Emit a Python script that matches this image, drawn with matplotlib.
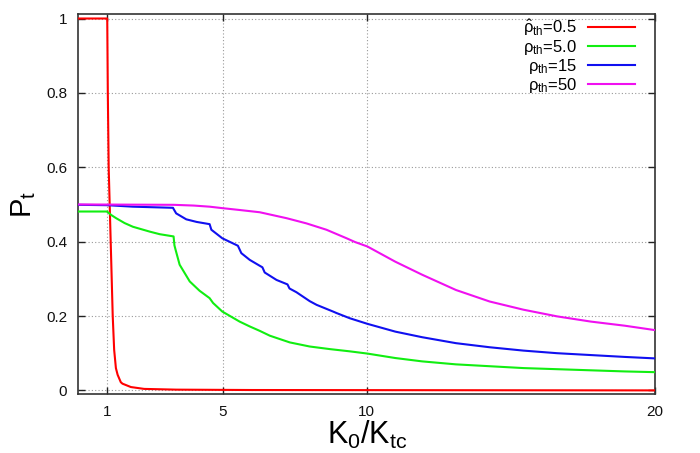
import matplotlib
matplotlib.use("Agg")
import matplotlib.pyplot as plt

plt.rcParams['font.family'] = ['Liberation Sans', 'DejaVu Sans']
plt.rcParams['mathtext.fontset'] = 'custom'
plt.rcParams['mathtext.rm'] = 'Liberation Sans'
plt.rcParams['mathtext.it'] = 'Liberation Sans'
plt.rcParams['mathtext.default'] = 'regular'

## Data (K0/Ktc vs P_t)
rho_labels = [r'$\hat{\rho}_{th}$=0.5', r'$\rho_{th}$=5.0', r'$\rho_{th}$=15', r'$\rho_{th}$=50']
colors = ['#ff0000', '#11ee11', '#1010f0', '#f010f0']

x_05 = [0, 1.0, 1.02, 1.05, 1.09, 1.19, 1.24, 1.30, 1.36, 1.47, 1.53, 1.82, 2.28, 3.4, 6.0, 20]
p_05 = [1.0, 1.0, 0.80, 0.60, 0.485, 0.20, 0.109, 0.06, 0.042, 0.022, 0.018, 0.009, 0.004, 0.002, 0.001, 0.0]

x_5 = [0, 1.0, 1.02, 1.15, 1.31, 1.6, 1.89, 2.47, 2.82, 3.30, 3.33, 3.37, 3.51, 3.86, 4.2, 4.55,
       4.67, 4.99, 5.59, 5.94, 6.29, 6.64, 7.33, 8.02, 8.72, 9.41, 10.02, 10.99, 11.92, 13.09,
       14.26, 15.43, 16.6, 17.77, 18.94, 20]
p_5 = [0.481, 0.481, 0.479, 0.471, 0.463, 0.450, 0.440, 0.427, 0.420, 0.414, 0.390, 0.378, 0.338,
       0.293, 0.268, 0.248, 0.235, 0.212, 0.185, 0.172, 0.160, 0.147, 0.129, 0.118, 0.111, 0.105,
       0.099, 0.087, 0.078, 0.070, 0.065, 0.060, 0.057, 0.054, 0.051, 0.049]

x_15 = [0, 1.0, 1.89, 3.28, 3.30, 3.39, 3.74, 4.1, 4.55, 4.61, 4.99, 5.53, 5.65, 5.94, 6.29, 6.38,
        6.46, 6.87, 7.25, 7.32, 7.56, 8.02, 8.26, 8.83, 8.95, 9.41, 10.02, 10.99, 11.92, 13.09,
        14.26, 15.43, 16.6, 17.77, 18.94, 20]
p_15 = [0.499, 0.498, 0.494, 0.491, 0.488, 0.476, 0.460, 0.453, 0.447, 0.432, 0.409, 0.389, 0.369,
        0.351, 0.335, 0.331, 0.317, 0.297, 0.285, 0.274, 0.264, 0.240, 0.230, 0.212, 0.208, 0.194,
        0.179, 0.158, 0.143, 0.127, 0.116, 0.107, 0.100, 0.095, 0.090, 0.086]

x_50 = [0, 3.3, 4.0, 4.55, 5.0, 5.6, 6.29, 7.22, 7.91, 8.6, 9.3, 9.59, 10.02, 10.99, 11.92, 13.09,
        14.26, 15.43, 16.6, 17.77, 18.94, 20]
p_50 = [0.500, 0.499, 0.497, 0.494, 0.490, 0.485, 0.479, 0.463, 0.449, 0.432, 0.409, 0.399, 0.387,
        0.346, 0.311, 0.270, 0.239, 0.217, 0.199, 0.185, 0.174, 0.162]

x_ticks = [1, 5, 10, 20]
y_ticks = [0, 0.2, 0.4, 0.6, 0.8, 1]
y_tick_labels = ['0', '0.2', '0.4', '0.6', '0.8', '1']

## Plot
fig = plt.figure(figsize=(7.0, 4.53), dpi=100)
ax = fig.add_axes([0.112, 0.130, 0.824, 0.839])

series = [(x_05, p_05), (x_5, p_5), (x_15, p_15), (x_50, p_50)]
for (xs, ps), lab, c in zip(series, rho_labels, colors):
    ax.plot(xs, ps, color=c, lw=1.5, label=lab, zorder=3)

ax.set_xlim(0, 20)
ax.set_ylim(-0.01, 1.012)
ax.set_xticks(x_ticks)
ax.set_xticklabels([str(t) for t in x_ticks])
ax.set_yticks(y_ticks)
ax.set_yticklabels(y_tick_labels)
ax.grid(True, color='#999999', ls=(0, (1, 2)), lw=0.8, zorder=0)
ax.tick_params(direction='in', length=5, width=1, top=True, right=True,
               labelsize=11, pad=8, colors='#222222', labelcolor='#111111')
for s in ax.spines.values():
    s.set_color('#333333')
    s.set_linewidth(1.2)

ax.set_xlabel(r'K$_0$/K$_{tc}$', fontsize=22, labelpad=0)
ax.set_ylabel(r'P$_t$', fontsize=21, labelpad=6)

leg = ax.legend(loc='upper right', frameon=False, markerfirst=False, fontsize=12,
                handlelength=2.85, handletextpad=0.65, labelspacing=0.0,
                borderaxespad=0.0, bbox_to_anchor=(0.977, 1.008))

fig.savefig('out.png', dpi=100)
